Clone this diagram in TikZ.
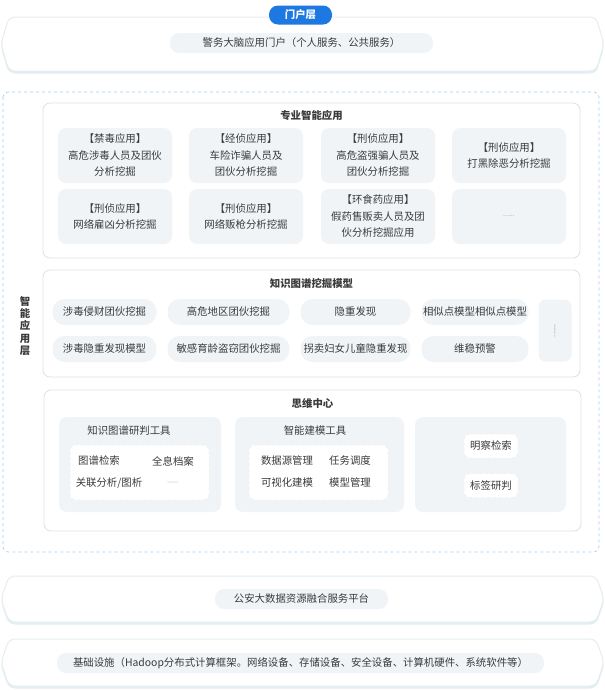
\documentclass[tikz,border=0pt]{standalone}
\usepackage{fontspec}
\setmainfont{Noto Sans CJK SC}
\usepackage{tikz}
\usetikzlibrary{positioning}
\definecolor{tagblue}{HTML}{1E78E2}
\definecolor{cardbg}{HTML}{F1F4F6}
\definecolor{panelline}{HTML}{DDE1E4}
\definecolor{bandline}{HTML}{E6EDF0}
\definecolor{bandshadow}{HTML}{E2EFF1}
\definecolor{layerline}{HTML}{A9CFF2}
\definecolor{txt}{HTML}{3A3A3A}
\definecolor{faint}{HTML}{9A9A9A}
\tikzset{
  band/.style={fill=white,draw=bandline,line width=1pt,rounded corners=6pt},
  bandshade/.style={fill=bandshadow,draw=bandshadow,line width=1pt,rounded corners=6pt},
  pill/.style={fill=cardbg,rounded corners=9pt,minimum height=20pt,inner sep=0pt},
  tag/.style={fill=tagblue,text=white,rounded corners=9pt,minimum height=19pt,inner sep=0pt,font=\bfseries\fontsize{10.4}{12}\selectfont},
  layer/.style={draw=layerline,dashed,line width=0.7pt,rounded corners=5pt},
  panel/.style={draw=panelline,fill=white,line width=0.8pt,rounded corners=7pt},
  paneltitle/.style={font=\bfseries\fontsize{10.4}{12}\selectfont},
  card/.style={fill=cardbg,rounded corners=8pt,minimum width=114pt,minimum height=55pt,align=center,inner sep=0pt},
  chip/.style={fill=cardbg,rounded corners=12pt,minimum height=26pt,inner sep=0pt},
  toolbox/.style={fill=cardbg,rounded corners=8pt},
  inner/.style={fill=white,draw=cardbg!70!gray!40,dashed,line width=0.5pt,rounded corners=6pt},
  item/.style={inner sep=0pt}
}

\begin{document}
\begin{tikzpicture}[x=1pt,y=-1pt,font=\fontsize{10.4}{16.5}\selectfont,text=txt]
\useasboundingbox (0,0) rectangle (605,691);
\fill[white] (0,0) rectangle (605,691);

% portal layer
\draw[bandshade] (9,19) -- (596,19) -- (604,46) -- (596,73) -- (9,73) -- (1,46) -- cycle;
\draw[band] (9,17) -- (596,17) -- (604,44) -- (596,71) -- (9,71) -- (1,44) -- cycle;
\node[pill,minimum width=263pt] (portal) at (301.5,43) {警务大脑应用门户（个人服务、公共服务）};
\node[tag,minimum width=63pt] (portaltag) at (300.5,15) {门户层};

% intelligent application layer
\draw[layer] (3,92) rectangle (599,552);
\node[font=\bfseries\fontsize{10.4}{12.4}\selectfont,align=center] (layername) at (25,326) {智\\能\\应\\用\\层};

\draw[panel] (43,103) rectangle (580,258);
\node[paneltitle] (apptitle) at (311.5,116) {专业智能应用};
\node[card] (app1) at (115,155.5) {【禁毒应用】\\高危涉毒人员及团伙\\分析挖掘};
\node[card] (app2) at (246,155.5) {【经侦应用】\\车险诈骗人员及\\团伙分析挖掘};
\node[card] (app3) at (378,155.5) {【刑侦应用】\\高危盗强骗人员及\\团伙分析挖掘};
\node[card] (app4) at (509,155.5) {【刑侦应用】\\打黑除恶分析挖掘};
\node[card] (app5) at (115,216.5) {【刑侦应用】\\网络雇凶分析挖掘};
\node[card] (app6) at (246,216.5) {【刑侦应用】\\网络贩枪分析挖掘};
\node[card] (app7) at (378,216.5) {【环食药应用】\\假药售贩卖人员及团\\伙分析挖掘应用};
\node[card,text=faint,font=\fontsize{7}{8}\selectfont] (app8) at (509,216.5) {......};

\draw[panel] (43,270) rectangle (580,377);
\node[paneltitle] (modeltitle) at (311.5,284) {知识图谱挖掘模型};
\node[chip,minimum width=104pt] (model1) at (104.5,312) {涉毒侵财团伙挖掘};
\node[chip,minimum width=122pt] (model2) at (228.5,312) {高危地区团伙挖掘};
\node[chip,minimum width=110pt] (model3) at (355.5,312) {隐重发现};
\node[chip,minimum width=107pt] (model4) at (475,312) {相似点模型相似点模型};
\node[chip,minimum width=104pt] (model5) at (104.5,349) {涉毒隐重发现模型};
\node[chip,minimum width=122pt] (model6) at (228.5,349) {敏感育龄盗窃团伙挖掘};
\node[chip,minimum width=110pt] (model7) at (355.5,349) {拐卖妇女儿童隐重发现};
\node[chip,minimum width=107pt] (model8) at (475,349) {维稳预警};
\node[fill=cardbg,rounded corners=7pt,minimum width=33pt,minimum height=62pt] (modelmore) at (555,330.5) {};
\node[rotate=90,text=faint,font=\fontsize{8}{9}\selectfont] at (modelmore) {......};

\draw[panel] (44,390) rectangle (581,531);
\node[paneltitle] (minetitle) at (312.5,404) {思维中心};

\fill[toolbox] (59,417) rectangle (221,512);
\node[item] (kgtitle) at (129,431) {知识图谱研判工具};
\draw[inner] (70,445) rectangle (209,500);
\node[item] (kg1) at (99,461) {图谱检索};
\node[item] (kg2) at (173,461) {全息档案};
\node[item] (kg3) at (109,483) {关联分析/图析};
\node[item,text=faint!70,font=\fontsize{7}{8}\selectfont] (kg4) at (173,483) {——};

\fill[toolbox] (235,417) rectangle (404,512);
\node[item] (mdtitle) at (315,431) {智能建模工具};
\draw[inner] (249,445) rectangle (388,500);
\node[item] (md1) at (287,461) {数据源管理};
\node[item] (md2) at (350,461) {任务调度};
\node[item] (md3) at (287,483) {可视化建模};
\node[item] (md4) at (350,483) {模型管理};

\fill[toolbox] (415,417) rectangle (566,512);
\node[inner,minimum width=54pt,minimum height=24pt,inner sep=0pt] (search) at (491,446) {明察检索};
\node[inner,minimum width=54pt,minimum height=24pt,inner sep=0pt] (label) at (491,485.5) {标签研判};

% data platform
\draw[bandshade] (9,578) -- (596,578) -- (604,601) -- (596,624) -- (9,624) -- (1,601) -- cycle;
\draw[band] (9,576) -- (596,576) -- (604,599) -- (596,622) -- (9,622) -- (1,599) -- cycle;
\node[pill,minimum width=173pt] (platform) at (301.5,599) {公安大数据资源融合服务平台};

% infrastructure
\draw[bandshade] (9,641) -- (596,641) -- (604,664.5) -- (596,688) -- (9,688) -- (1,664.5) -- cycle;
\draw[band] (9,639) -- (596,639) -- (604,662.5) -- (596,686) -- (9,686) -- (1,662.5) -- cycle;
\node[pill,minimum width=487pt] (infra) at (300.5,663) {基础设施（Hadoop分布式计算框架。网络设备、存储设备、安全设备、计算机硬件、系统软件等）};
\end{tikzpicture}
\end{document}
